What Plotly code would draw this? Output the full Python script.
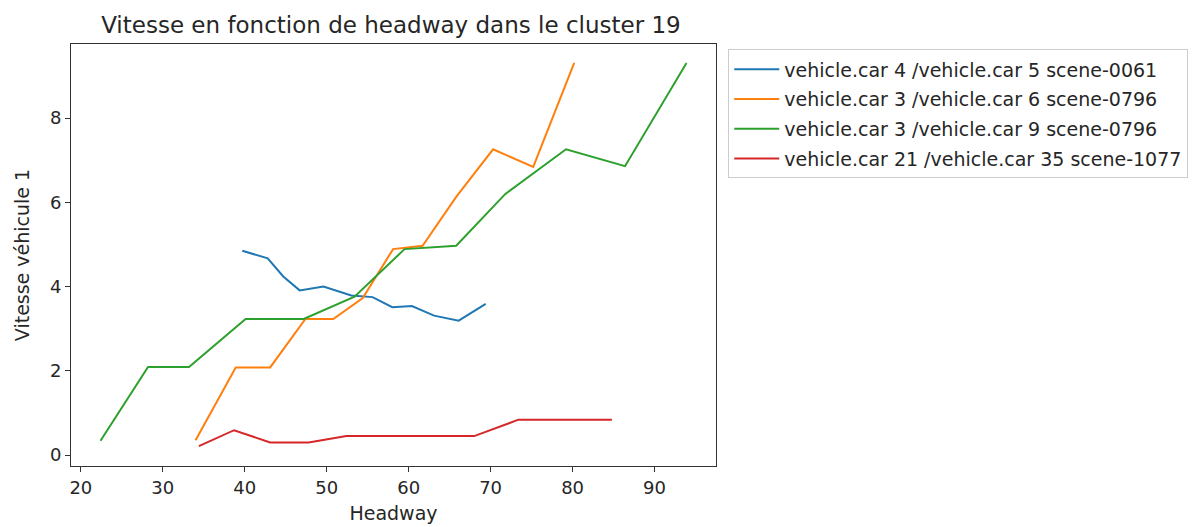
import plotly.graph_objects as go

# Headway / speed samples per vehicle pair
names = [
    "vehicle.car 4 /vehicle.car 5 scene-0061",
    "vehicle.car 3 /vehicle.car 6 scene-0796",
    "vehicle.car 3 /vehicle.car 9 scene-0796",
    "vehicle.car 21 /vehicle.car 35 scene-1077",
]
colors = ["#1f77b4", "#ff7f0e", "#2ca02c", "#d62728"]

headway_a = [39.7, 42.8, 44.7, 46.7, 49.6, 53.0, 55.6, 58.0, 60.4, 63.1, 66.1, 69.4]
speed_a = [4.85, 4.67, 4.24, 3.91, 4.00, 3.79, 3.75, 3.51, 3.54, 3.31, 3.19, 3.59]

headway_b = [34.0, 38.9, 43.1, 47.4, 50.8, 54.4, 58.1, 61.7, 65.8, 70.3, 75.2, 80.2]
speed_b = [0.35, 2.08, 2.08, 3.23, 3.23, 3.73, 4.89, 4.97, 6.13, 7.26, 6.84, 9.31]

headway_c = [22.4, 28.2, 33.2, 40.1, 47.2, 53.4, 59.5, 65.8, 71.8, 79.2, 86.4, 93.9]
speed_c = [0.34, 2.09, 2.09, 3.23, 3.23, 3.76, 4.89, 4.97, 6.20, 7.26, 6.86, 9.31]

headway_d = [34.4, 38.7, 43.1, 47.8, 52.4, 57.6, 62.8, 68.0, 73.4, 79.1, 84.8]
speed_d = [0.21, 0.59, 0.30, 0.30, 0.45, 0.45, 0.45, 0.45, 0.84, 0.84, 0.84]

xs = [headway_a, headway_b, headway_c, headway_d]
ys = [speed_a, speed_b, speed_c, speed_d]

fig = go.Figure()
for i, (name, x, y, c) in enumerate(zip(names, xs, ys, colors)):
    fig.add_trace(go.Scatter(
        x=x, y=y, mode="lines", name=name,
        line=dict(color=c, width=2),
        legendgroup=f"g{i}",
    ))

font_family = "DejaVu Sans"
text_color = "#262626"
axis_common = dict(
    showgrid=False, zeroline=False,
    showline=True, linecolor="#333333", linewidth=1, mirror=True,
    ticks="outside", ticklen=5, tickcolor="#333333", tickwidth=1,
    tickfont=dict(family=font_family, size=18, color=text_color),
)

fig.update_layout(
    width=1200, height=527,
    paper_bgcolor="white", plot_bgcolor="white",
    margin=dict(l=71, r=484, t=44, b=61, autoexpand=False),
    title=dict(
        text="Vitesse en fonction de headway dans le cluster 19",
        x=0.496, xref="paper", xanchor="center",
        y=1 - 25 / 527, yanchor="middle",
        font=dict(family=font_family, size=23, color=text_color),
    ),
    xaxis=dict(
        range=[18.8, 97.5], tickvals=[20, 30, 40, 50, 60, 70, 80, 90],
        title=dict(text="Headway", font=dict(family=font_family, size=19, color=text_color), standoff=10),
        **axis_common,
    ),
    yaxis=dict(
        range=[-0.26, 9.76], tickvals=[0, 2, 4, 6, 8],
        title=dict(text="Vitesse véhicule 1", font=dict(family=font_family, size=19, color=text_color), standoff=15),
        **axis_common,
    ),
    legend=dict(
        x=1.019, y=0.987, xanchor="left", yanchor="top",
        bgcolor="white", bordercolor="#cccccc", borderwidth=1,
        font=dict(family=font_family, size=19, color=text_color),
        tracegroupgap=2,
        itemwidth=45,
    ),
    showlegend=True,
)

fig.write_html("out.html")
